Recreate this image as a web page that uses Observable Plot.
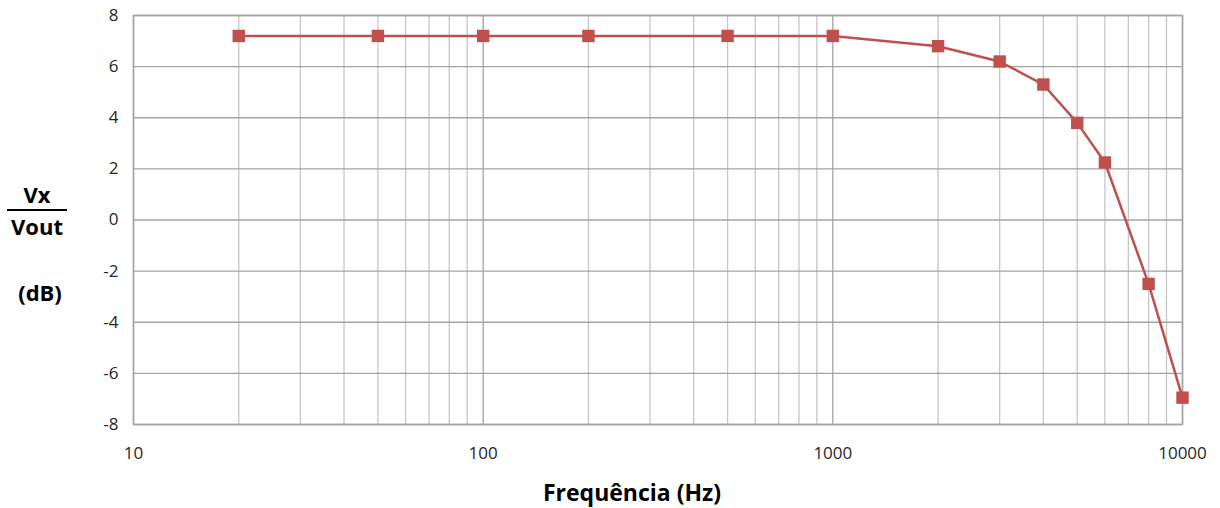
<!DOCTYPE html>
<html>
<head>
<meta charset="utf-8">
<script src="https://cdn.jsdelivr.net/npm/d3@7"></script>
<script src="https://cdn.jsdelivr.net/npm/@observablehq/plot@0.6"></script>
<style>
  html, body { margin: 0; padding: 0; background: #fff; }
  #wrap { position: relative; width: 1220px; height: 508px; font-family: "Open Sans", Lato, sans-serif; }
  .ylab { position: absolute; font-weight: bold; font-size: 22px; line-height: 1; color: #000; text-align: center; width: 74px; white-space: nowrap; }
  #frac { position: absolute; left: 7px; top: 209px; width: 60px; height: 0; border-top: 2px solid #000; }
</style>
</head>
<body>
<div id="wrap"></div>
<script>
// Data
const freq = [20, 50, 100, 200, 500, 1000, 2000, 3000, 4000, 5000, 6000, 8000, 10000];
const gainDb = [7.2, 7.2, 7.2, 7.2, 7.2, 7.2, 6.8, 6.2, 5.3, 3.8, 2.25, -2.5, -6.95];
const xTickLabels = [10, 100, 1000, 10000];
const yTickLabels = [-8, -6, -4, -2, 0, 2, 4, 6, 8];
const xTitle = "Frequência (Hz)";
const yTitleTop = "Vx";
const yTitleBottom = "Vout";
const yUnit = "(dB)";

const data = freq.map((f, i) => ({f, v: gainDb[i]}));
// minor log gridlines: 2..9 × each decade
const minorX = [];
for (const dec of [10, 100, 1000]) for (let k = 2; k <= 9; k++) minorX.push(k * dec);

const chart = Plot.plot({
  width: 1220,
  height: 508,
  marginLeft: 133,
  marginRight: 38,
  marginTop: 15,
  marginBottom: 84,
  style: {fontFamily: "'Open Sans', Lato, sans-serif", fontSize: "17px", color: "#262626", background: "#fff"},
  x: {type: "log", domain: [10, 10000]},
  y: {domain: [-8, 8]},
  marks: [
    Plot.ruleX(minorX, {stroke: "#c6c6c6", strokeWidth: 1.3}),
    Plot.ruleX(xTickLabels, {stroke: "#a3a3a3", strokeWidth: 1.3}),
    Plot.ruleY(yTickLabels, {stroke: "#a3a3a3", strokeWidth: 1.3}),
    Plot.frame({stroke: "#a3a3a3", strokeWidth: 1.5}),
    Plot.axisY({ticks: yTickLabels, tickSize: 0, tickPadding: 15, tickFormat: d => String(d), label: null}),
    Plot.axisX({ticks: xTickLabels, tickSize: 0, tickPadding: 22, tickFormat: d => String(d), label: null}),
    Plot.line(data, {x: "f", y: "v", stroke: "#c0504d", strokeWidth: 2.5}),
    Plot.dot(data, {x: "f", y: "v", symbol: "square", r: 7, fill: "#c0504d", stroke: "none"})
  ]
});
const wrap = document.getElementById("wrap");
wrap.appendChild(chart);
chart.querySelectorAll("text").forEach(t => {
  t.style.fontSize = "17px";
  t.style.fontFamily = "'Open Sans', Lato, sans-serif";
  t.style.fill = "#262626";
});

function addLabel(text, left, top, extra) {
  const d = document.createElement("div");
  d.className = "ylab";
  d.textContent = text;
  d.style.left = left + "px";
  d.style.top = top + "px";
  if (extra) Object.assign(d.style, extra);
  wrap.appendChild(d);
}
addLabel(yTitleTop, 0, 183);
addLabel(yTitleBottom, 0, 215);
addLabel(yUnit, 3, 281);
const fr = document.createElement("div"); fr.id = "frac"; wrap.appendChild(fr);
addLabel(xTitle, 532, 481, {width: "200px", fontSize: "23px"});
</script>
</body>
</html>
